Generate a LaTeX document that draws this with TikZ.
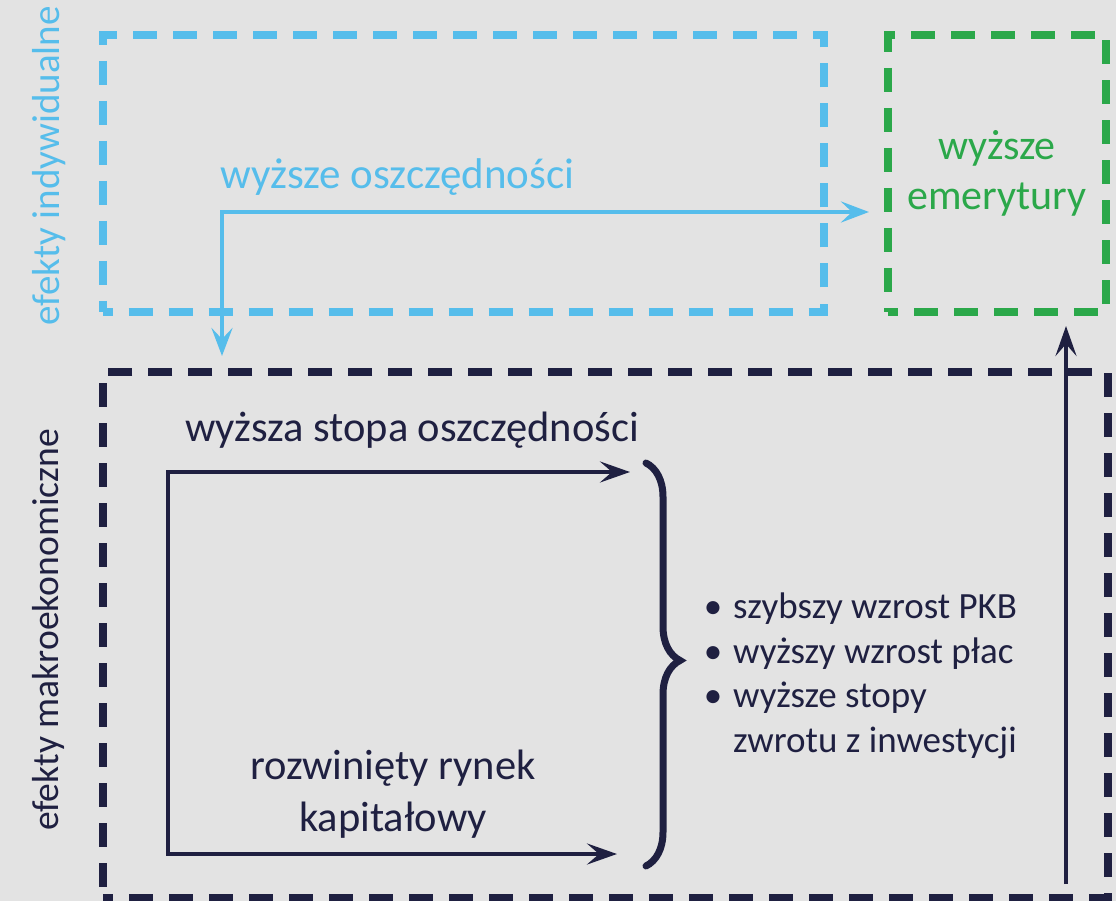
\documentclass[tikz,border=0pt]{standalone}
\usepackage{fontspec}
\setmainfont{Carlito}
\usetikzlibrary{positioning}
\usetikzlibrary{arrows.meta}
\usetikzlibrary{decorations.pathreplacing}
\definecolor{bgray}{HTML}{E3E3E3}
\definecolor{indblue}{HTML}{56BDEB}
\definecolor{pengreen}{HTML}{2BA84A}
\definecolor{macnavy}{HTML}{1F2041}
\newcommand{\bul}{\makebox[0pt][r]{•\hspace{11pt}}}
\tikzset{
    tipb/.tip = {Stealth[length=28pt,width=21pt,inset=11pt]},
    tipn/.tip = {Stealth[length=30pt,width=21pt,inset=12pt]},
    boxb/.style = {rectangle, draw=indblue, line width=8pt, dash pattern=on 24pt off 16pt, dash phase=14pt, inner sep=0pt},
    boxg/.style = {rectangle, draw=pengreen, line width=8pt, dash pattern=on 24pt off 16pt, dash phase=14pt, inner sep=0pt},
    boxn/.style = {rectangle, draw=macnavy, line width=8pt, dash pattern=on 24pt off 16pt, dash phase=14pt, inner sep=0pt},
    txtb/.style = {text=indblue, inner sep=0pt, font=\fontsize{43pt}{50pt}\selectfont},
    txtg/.style = {text=pengreen, align=center, font=\fontsize{42pt}{50pt}\selectfont},
    txtn/.style = {text=macnavy, inner sep=0pt, font=\fontsize{42.5pt}{52pt}\selectfont},
    txts/.style = {text=macnavy, inner sep=0pt, align=left, font=\fontsize{37pt}{44.5pt}\selectfont},
    sideb/.style = {text=indblue, inner sep=0pt, rotate=90, anchor=base, font=\fontsize{39pt}{44pt}\selectfont},
    siden/.style = {text=macnavy, inner sep=0pt, rotate=90, anchor=base, font=\fontsize{37.6pt}{44pt}\selectfont},
    edgeb/.style = {line width=4.5pt, indblue, tipb-tipb},
    edgen/.style = {line width=4pt, macnavy},
    bracen/.style = {line width=7pt, macnavy, line cap=round, decorate, decoration={brace, amplitude=34pt, aspect=0.49}}
}

\begin{document}
\begin{tikzpicture}[x=1pt,y=-1pt]
\fill[bgray] (0,0) rectangle (1116,901);
\useasboundingbox (0,0) rectangle (1116,901);
%
\node[boxb, minimum width=721.5pt, minimum height=277pt] at (463.25,173.5) (indiv) {};
\node[boxg, txtg, minimum width=218pt, minimum height=277pt] at (997,173.5) (pension) {wyższe\\emerytury};
\node[boxn, minimum width=1004.5pt, minimum height=526pt] at (605.5,635) (macro) {};
%
\node[sideb] at (59,166) (indlabel) {efekty indywidualne};
\node[siden] at (58,630) (maclabel) {efekty makroekonomiczne};
%
\node[txtb, anchor=base] at (397.5,189) (savings) {wyższe oszczędności};
\node[txtn, anchor=base] at (412,441) (rate) {wyższa stopa oszczędności};
\node[txtn, align=center] at (393,794) (market) {rozwinięty rynek\\kapitałowy};
\node[txts, anchor=north west] at (733,593) (effects) {\bul szybszy wzrost PKB\\\bul wyższy wzrost płac\\\bul wyższe stopy\\zwrotu z inwestycji};
%
\coordinate (bsplit) at (222,212);
\coordinate (ratetip) at (630,472);
\coordinate (lcorner) at (168,854);
\coordinate (markettip) at (617,854);
\coordinate (btop) at (646,463);
\coordinate (bbot) at (646,866);
\coordinate (upstart) at (1066,884);
%
\draw[edgeb, shorten <=15pt, shorten >=12pt] (pension.west |- bsplit) -- (bsplit) -- (bsplit |- macro.north);
\draw[edgen, tipn-tipn] (ratetip) -| (lcorner) -- (markettip);
\draw[edgen, -tipn, shorten >=10pt] (upstart) -- (upstart |- pension.south);
\draw[bracen] (btop) -- (bbot);

\end{tikzpicture}
\end{document}
